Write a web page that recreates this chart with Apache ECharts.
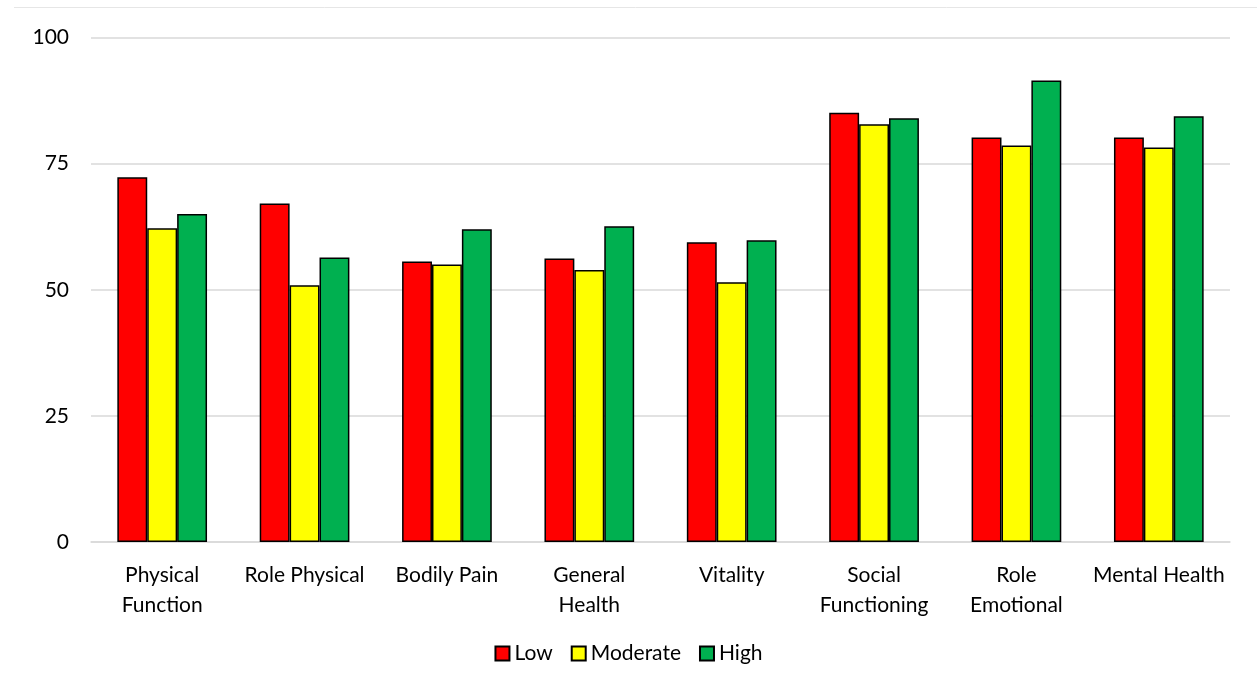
<!DOCTYPE html>
<html>
<head>
<meta charset="utf-8">
<script src="https://cdn.jsdelivr.net/npm/echarts@6/dist/echarts.min.js"></script>
<style>
  html, body { margin: 0; padding: 0; background: #fff; }
  #chart { width: 1257px; height: 689px; }
</style>
</head>
<body>
<div id="chart"></div>
<script>
const categories = ['Physical\nFunction', 'Role Physical', 'Bodily Pain', 'General\nHealth', 'Vitality', 'Social\nFunctioning', 'Role\nEmotional', 'Mental Health']
const lowValues = [72.3, 67.1, 55.6, 56.2, 59.4, 85.1, 80.2, 80.2]
const moderateValues = [62.2, 50.9, 55.0, 53.9, 51.5, 82.8, 78.6, 78.2]
const highValues = [65.0, 56.4, 62.0, 62.6, 59.8, 84.0, 91.5, 84.4]
const yTicks = [0, 25, 50, 75, 100]

const font = 'Lato, "Open Sans", sans-serif'
const chart = echarts.init(document.getElementById('chart'))

function barSeries(name, color, data) {
  return {
    name: name,
    type: 'bar',
    data: data,
    barGap: '0%',
    barCategoryGap: '37%',
    itemStyle: { color: color, borderColor: '#000', borderWidth: 1.5 },
    animation: false
  }
}

chart.setOption({
  textStyle: { fontFamily: font },
  graphic: [{
    type: 'line',
    shape: { x1: 14, y1: 7.5, x2: 1257, y2: 7.5 },
    style: { stroke: '#e6e6e6', lineWidth: 1 }
  }],
  grid: { left: 91, right: 27, top: 37.5, bottom: 147 },
  legend: {
    bottom: 20,
    left: 'center',
    icon: 'rect',
    itemWidth: 14,
    itemHeight: 14,
    itemGap: 18,
    textStyle: { fontSize: 21, color: '#000', fontFamily: font },
    data: ['Low', 'Moderate', 'High']
  },
  xAxis: {
    type: 'category',
    data: categories,
    axisLine: { lineStyle: { color: '#d9d9d9', width: 1.5 } },
    axisTick: { show: false },
    axisLabel: { fontSize: 21, color: '#000', lineHeight: 30, margin: 18, interval: 0, fontFamily: font }
  },
  yAxis: {
    type: 'value',
    min: yTicks[0],
    max: yTicks[yTicks.length - 1],
    interval: 25,
    axisLine: { show: false },
    axisTick: { show: false },
    splitLine: { lineStyle: { color: '#d9d9d9', width: 1.5 } },
    axisLabel: { fontSize: 21, color: '#000', margin: 22, fontFamily: font }
  },
  series: [
    barSeries('Low', '#ff0000', lowValues),
    barSeries('Moderate', '#ffff00', moderateValues),
    barSeries('High', '#00b050', highValues)
  ]
})
</script>
</body>
</html>
